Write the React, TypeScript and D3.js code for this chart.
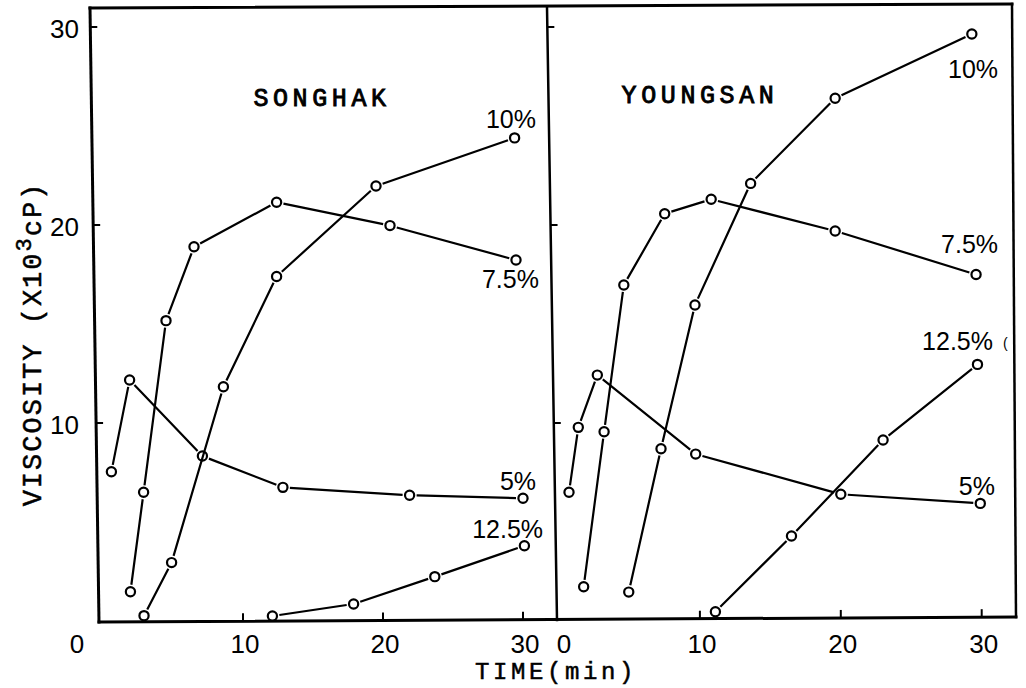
import React from 'react';
import * as d3 from 'd3';

// ---- data (time in min, viscosity in 10^3 cP) ----
const TIME_TICKS = [10, 20, 30];
const VISC_TICKS = [10, 20, 30];
const TIME_TICK_LABELS = ['10', '20', '30'];
const VISC_TICK_LABELS = ['10', '20', '30'];

const songhak5T = [0.6, 1.9, 7.1, 12.85, 21.9, 30.0];
const songhak5V = [7.54, 12.17, 8.33, 6.75, 6.35, 6.2];
const songhak75T = [1.96, 2.9, 4.5, 6.5, 12.4, 20.5, 29.5];
const songhak75V = [1.48, 6.5, 15.17, 18.9, 21.15, 19.97, 18.23];
const songhak10T = [2.93, 4.9, 8.6, 12.4, 19.5, 29.4];
const songhak10V = [0.27, 2.95, 11.83, 17.4, 21.97, 24.4];
const songhak125T = [12.1, 17.9, 23.7, 30.1];
const songhak125V = [0.25, 0.86, 2.24, 3.8];

const youngsan5T = [0.71, 1.37, 2.72, 9.7, 20.0, 29.9];
const youngsan5V = [6.5, 9.78, 12.42, 8.43, 6.4, 5.94];
const youngsan75T = [1.75, 3.2, 4.6, 7.5, 10.8, 19.6, 29.6];
const youngsan75V = [1.73, 9.56, 16.97, 20.57, 21.3, 19.7, 17.5];
const youngsan10T = [4.95, 7.24, 9.65, 13.6, 19.6, 29.3];
const youngsan10V = [1.46, 8.7, 15.96, 22.1, 26.4, 29.65];
const youngsan125T = [11.1, 16.5, 23.0, 29.7];
const youngsan125V = [0.47, 4.29, 9.14, 12.96];

const SERIES_NAMES = ['5%', '7.5%', '10%', '12.5%'];
// label anchor (end, baseline) in data units
const songhakLabelT = [30.93, 31.14, 30.93, 31.43];
const songhakLabelV = [6.62, 16.82, 24.9, 4.19];
const youngsanLabelT = [30.94, 31.16, 31.16, 30.8];
const youngsanLabelV = [6.36, 18.59, 27.42, 13.69];

const zip = (t: number[], v: number[]) => t.map((x, i) => ({ t: x, v: v[i] }));

const W = 1026;
const H = 688;
const y = d3.scaleLinear().domain([0, 30]).range([621, 27]);
const xLeft = d3.scaleLinear().domain([0, 30]).range([103, 523]);
const xRight = d3.scaleLinear().domain([0, 30]).range([559, 981.7]);

const panels = [
  {
    name: 'SONGHAK',
    x: xLeft,
    titleX: 322,
    titleY: 106,
    series: [
      zip(songhak5T, songhak5V),
      zip(songhak75T, songhak75V),
      zip(songhak10T, songhak10V),
      zip(songhak125T, songhak125V),
    ],
    labels: SERIES_NAMES.map((n, i) => ({ n, t: songhakLabelT[i], v: songhakLabelV[i] })),
  },
  {
    name: 'YOUNGSAN',
    x: xRight,
    titleX: 700,
    titleY: 103,
    series: [
      zip(youngsan5T, youngsan5V),
      zip(youngsan75T, youngsan75V),
      zip(youngsan10T, youngsan10V),
      zip(youngsan125T, youngsan125V),
    ],
    labels: SERIES_NAMES.map((n, i) => ({ n, t: youngsanLabelT[i], v: youngsanLabelV[i] })),
  },
];

// frame geometry (slightly skewed like the scan)
const FRAME = {
  leftTop: [90, 8], leftBot: [99, 622],
  divTop: [547, 7], divBot: [557, 620],
  rightTop: [1012, 4], rightBot: [1016, 617],
};
const lerpX = (a: number[], b: number[], yy: number) => a[0] + ((yy - a[1]) / (b[1] - a[1])) * (b[0] - a[0]);
const lerpY = (a: number[], b: number[], xx: number) => a[1] + ((xx - a[0]) / (b[0] - a[0])) * (b[1] - a[1]);

const R = 4.6;
const GAP = 7;

function segs(pts: { px: number; py: number }[]) {
  const out: string[] = [];
  for (let i = 0; i < pts.length - 1; i++) {
    const a = pts[i], b = pts[i + 1];
    const dx = b.px - a.px, dy = b.py - a.py;
    const L = Math.hypot(dx, dy);
    if (L <= 2 * GAP) continue;
    const ux = dx / L, uy = dy / L;
    out.push(`M${a.px + ux * GAP},${a.py + uy * GAP}L${b.px - ux * GAP},${b.py - uy * GAP}`);
  }
  return out.join('');
}

const MONO = '"Liberation Mono", "DejaVu Sans Mono", monospace';
const SANS = '"Liberation Sans", Arial, sans-serif';

export default function App() {
  const F = FRAME;
  return (
    <svg width={W} height={H} style={{ position: 'absolute', left: 0, top: 0, background: '#fff' }}>
      <rect x={0} y={0} width={W} height={H} fill="#fff" />
      {/* frame */}
      <g stroke="#000" fill="none" strokeLinecap="square">
        <line x1={F.leftTop[0]} y1={F.leftTop[1]} x2={F.rightTop[0]} y2={F.rightTop[1]} strokeWidth={3} />
        <line x1={F.leftTop[0]} y1={F.leftTop[1]} x2={F.leftBot[0]} y2={F.leftBot[1]} strokeWidth={3} />
        <line x1={F.divTop[0]} y1={F.divTop[1]} x2={F.divBot[0]} y2={F.divBot[1]} strokeWidth={2.5} />
        <line x1={F.rightTop[0]} y1={F.rightTop[1]} x2={F.rightBot[0]} y2={F.rightBot[1]} strokeWidth={2.5} />
        <line x1={F.leftBot[0]} y1={F.leftBot[1]} x2={F.rightBot[0]} y2={F.rightBot[1]} strokeWidth={3} />
      </g>
      {/* y ticks */}
      <g stroke="#000" strokeWidth={2}>
        {VISC_TICKS.map((v) => {
          const yy = y(v);
          const xl = lerpX(F.leftTop, F.leftBot, yy);
          const xd = lerpX(F.divTop, F.divBot, yy);
          return (
            <g key={v}>
              <line x1={xl} y1={yy} x2={xl + 7} y2={yy} />
              <line x1={xd} y1={yy} x2={xd + 7} y2={yy} />
            </g>
          );
        })}
      </g>
      {/* x ticks */}
      <g stroke="#000" strokeWidth={2}>
        {panels.map((p) =>
          TIME_TICKS.map((t) => {
            const xx = p.x(t);
            const yb = lerpY(F.leftBot, F.rightBot, xx);
            return <line key={p.name + t} x1={xx} y1={yb} x2={xx} y2={yb - 8} />;
          })
        )}
      </g>
      {/* y tick labels */}
      <g fontFamily={SANS} fontSize={26} textAnchor="end" fill="#000">
        {VISC_TICKS.map((v, i) => (
          <text key={v} x={79} y={y(v) + 11}>
            {VISC_TICK_LABELS[i]}
          </text>
        ))}
      </g>
      {/* x tick labels */}
      <g fontFamily={SANS} fontSize={26} textAnchor="middle" fill="#000">
        <text x={77} y={653}>0</text>
        <text x={564} y={653}>0</text>
        {panels.map((p) =>
          TIME_TICKS.map((t, i) => (
            <text key={p.name + t} x={p.x(t) + 2} y={653}>
              {TIME_TICK_LABELS[i]}
            </text>
          ))
        )}
      </g>
      {/* axis titles */}
      <text x={556} y={679} fontFamily={MONO} fontSize={24} letterSpacing={3.6} textAnchor="middle" fill="#000" stroke="#000" strokeWidth={0.5}>
        TIME(min)
      </text>
      <text
        transform="translate(41,344) rotate(-90)"
        fontFamily={MONO}
        fontSize={27}
        letterSpacing={2}
        textAnchor="middle"
        fill="#000"
        stroke="#000"
        strokeWidth={0.5}
      >
        VISCOSITY (X10<tspan fontSize={22} dy={-10}>3</tspan>
        <tspan dy={10}>cP)</tspan>
      </text>
      {panels.map((p) => (
        <g key={p.name}>
          <text x={p.titleX} y={p.titleY} fontFamily={MONO} fontSize={25} letterSpacing={4.6} textAnchor="middle" fill="#000" stroke="#000" strokeWidth={0.9}>
            {p.name}
          </text>
          {p.series.map((s, si) => {
            const pts = s.map((d) => ({ px: p.x(d.t), py: y(d.v) }));
            return (
              <g key={si}>
                <path d={segs(pts)} stroke="#000" strokeWidth={2.2} fill="none" />
                {pts.map((q, qi) => (
                  <circle key={qi} cx={q.px} cy={q.py} r={R} fill="#fff" stroke="#000" strokeWidth={2.2} />
                ))}
              </g>
            );
          })}
          {p.labels.map((l) => (
            <text key={l.n} x={p.x(l.t)} y={y(l.v)} fontFamily={SANS} fontSize={25} textAnchor="end" fill="#000">
              {l.n}
            </text>
          ))}
        </g>
      ))}
      <text x={1003} y={348} fontFamily={SANS} fontSize={14} fill="#000">(</text>
    </svg>
  );
}
